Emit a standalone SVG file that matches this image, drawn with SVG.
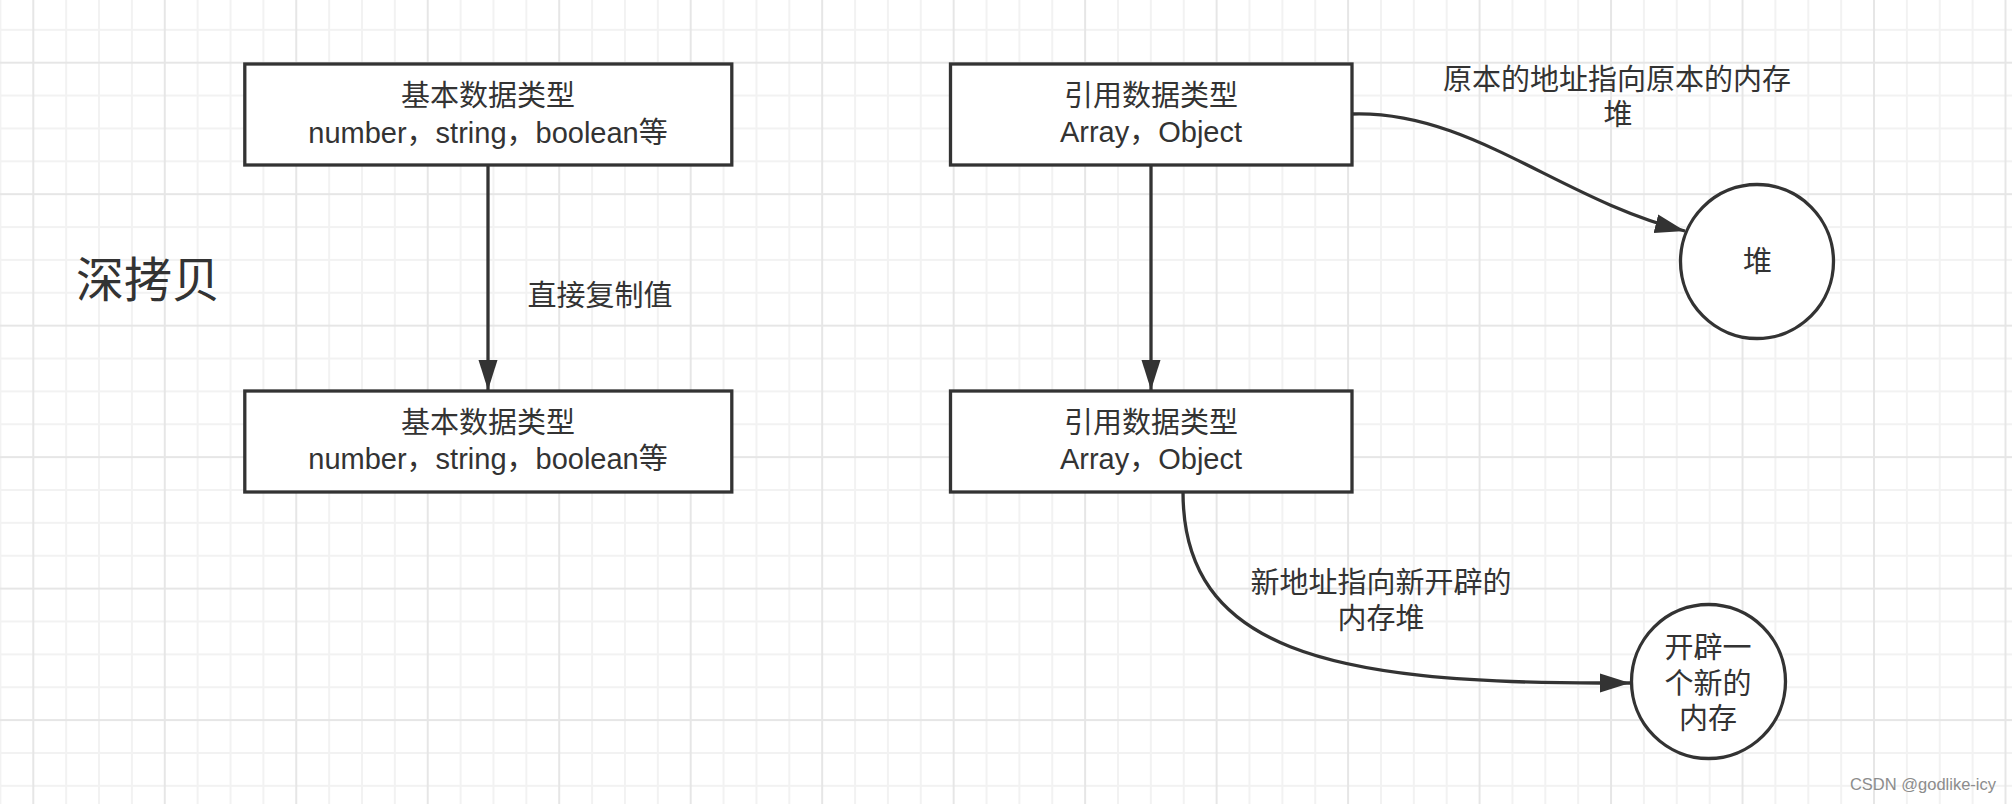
<svg xmlns="http://www.w3.org/2000/svg" width="2012" height="804" viewBox="0 0 2012 804">
<style>
  .box { fill: #ffffff; stroke: #333333; stroke-width: 3.3; }
  .edge { fill: none; stroke: #333333; stroke-width: 3.3; }
  .t { font-family: "Liberation Sans", "Noto Sans CJK SC", sans-serif; fill: #333333; text-anchor: middle; }
  .m { font-size: 29px; }
</style>
<defs>
  <pattern id="grid" patternUnits="userSpaceOnUse" x="32.3" y="61.7" width="131.48" height="131.48">
    <path d="M33.87 0V131.48M66.74 0V131.48M99.61 0V131.48M0 33.87H131.48M0 66.74H131.48M0 99.61H131.48" stroke="#f2f2f2" stroke-width="2" fill="none"/>
    <path d="M1 0V131.48M0 1H131.48" stroke="#e6e6e6" stroke-width="2" fill="none"/>
  </pattern>
  <marker id="arrow" markerUnits="userSpaceOnUse" markerWidth="32" markerHeight="22" refX="30" refY="10" orient="auto" viewBox="0 0 32 22">
    <path d="M0,0.5 L30,10 L0,19.5 Z" fill="#333333"/>
  </marker>
</defs>
<rect x="0" y="0" width="2012" height="804" fill="#ffffff"/>
<rect x="0" y="0" width="2012" height="804" fill="url(#grid)"/>

<g id="connectors">
  <path class="edge" d="M488,165 V390" marker-end="url(#arrow)"/>
  <path class="edge" d="M1151,165 V390" marker-end="url(#arrow)"/>
  <path class="edge" d="M1352,114 C1470,110 1560,200 1685,231" marker-end="url(#arrow)"/>
  <path class="edge" d="M1183,492 C1183,650 1330,683 1600,683 L1630,683" marker-end="url(#arrow)"/>
</g>

<g id="label-deep-copy">
  <text class="t" x="148" y="297" font-size="48">深拷贝</text>
</g>
<g id="label-copy-value">
  <text class="t m" x="600" y="306">直接复制值</text>
</g>
<g id="label-orig-addr">
  <text class="t m" x="1617" y="90">原本的地址指向原本的内存</text>
  <text class="t m" x="1618" y="125">堆</text>
</g>
<g id="label-new-addr">
  <text class="t m" x="1381" y="593">新地址指向新开辟的</text>
  <text class="t m" x="1381" y="629">内存堆</text>
</g>

<g id="node-basic-top">
  <rect class="box" x="244.8" y="64" width="487" height="101"/>
  <text class="t m" x="488" y="106">基本数据类型</text>
  <text class="t m" x="488" y="142.5">number，string，boolean等</text>
</g>
<g id="node-basic-bottom">
  <rect class="box" x="244.8" y="391" width="487" height="101"/>
  <text class="t m" x="488" y="433">基本数据类型</text>
  <text class="t m" x="488" y="469">number，string，boolean等</text>
</g>
<g id="node-ref-top">
  <rect class="box" x="950.5" y="64" width="401.5" height="101"/>
  <text class="t m" x="1151" y="106">引用数据类型</text>
  <text class="t m" x="1151" y="142">Array，Object</text>
</g>
<g id="node-ref-bottom">
  <rect class="box" x="950.5" y="391" width="401.5" height="101"/>
  <text class="t m" x="1151" y="433">引用数据类型</text>
  <text class="t m" x="1151" y="469">Array，Object</text>
</g>
<g id="node-heap">
  <ellipse class="box" cx="1757" cy="261.5" rx="76.5" ry="77"/>
  <text class="t m" x="1757.5" y="272">堆</text>
</g>
<g id="node-new-memory">
  <ellipse class="box" cx="1708.5" cy="681.5" rx="77" ry="77"/>
  <text class="t m" x="1708" y="658">开辟一</text>
  <text class="t m" x="1708" y="693.5">个新的</text>
  <text class="t m" x="1708" y="729">内存</text>
</g>

<g id="watermark">
  <text x="1996" y="790" font-family="Liberation Sans, sans-serif" font-size="16.5" fill="#8c8c8c" text-anchor="end">CSDN @godlike-icy</text>
</g>
</svg>
